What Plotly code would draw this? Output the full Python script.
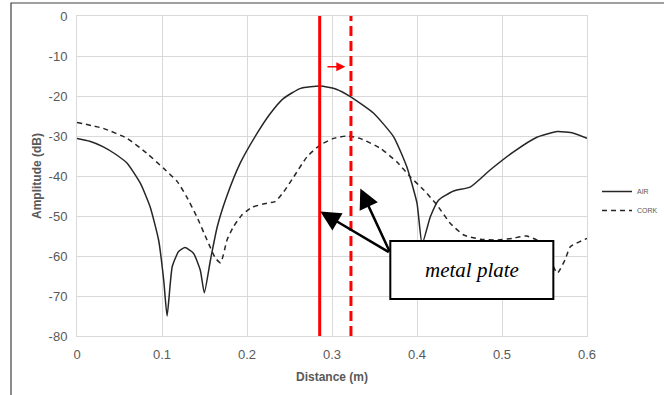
import plotly.graph_objects as go

# ---- data ----
air_x = [0, 0.015, 0.031, 0.045, 0.059, 0.0745, 0.086, 0.096, 0.102, 0.106, 0.112, 0.1195, 0.127,
         0.137, 0.145, 0.1498, 0.157, 0.165, 0.176, 0.192, 0.212, 0.227, 0.243, 0.263, 0.286,
         0.305, 0.322, 0.349, 0.3725, 0.388, 0.4, 0.406, 0.4157, 0.4255, 0.443, 0.463, 0.486,
         0.514, 0.541, 0.565, 0.584, 0.6]
air_y = [-30.6, -31.3, -32.7, -34.5, -36.8, -41.8, -47.7, -56, -66, -75, -62.7, -58.9, -57.9,
         -59.3, -63.5, -69.2, -61, -52.7, -45.2, -36.8, -29.3, -24.5, -20.6, -18.1, -17.5,
         -18.3, -20.2, -24.3, -30.2, -37.7, -46.8, -57, -50.2, -46, -43.75, -42.7, -38.5,
         -33.9, -30.3, -28.9, -29.3, -30.6]

cork_x = [0, 0.031, 0.059, 0.082, 0.102, 0.118, 0.129, 0.141, 0.153, 0.163, 0.169, 0.1765, 0.184,
          0.194, 0.206, 0.2235, 0.233, 0.243, 0.255, 0.2706, 0.286, 0.302, 0.3176, 0.333, 0.357,
          0.3765, 0.392, 0.408, 0.4235, 0.439, 0.455, 0.4745, 0.495, 0.512, 0.529, 0.545, 0.555,
          0.565, 0.574, 0.5804, 0.6]
cork_y = [-26.6, -28.1, -30.6, -34.3, -38.1, -41.4, -45.2, -50.2, -56, -60.6, -61.7, -56, -52.7,
          -49.75, -47.8, -46.8, -46.4, -44, -40.2, -35.2, -32.25, -30.6, -30, -30.6, -33.1,
          -36.5, -40.2, -43.5, -47.25, -51.8, -54.75, -55.8, -56, -55.6, -55, -56.5, -60,
          -64.3, -61, -57.7, -55.6]

plate_air = 0.2855      # metal plate position (solid red)
plate_cork = 0.3223     # metal plate position (dashed red)
y_span = [-80, 0]

x_ticks = [0, 0.1, 0.2, 0.3, 0.4, 0.5, 0.6]
x_labels = ["0", "0.1", "0.2", "0.3", "0.4", "0.5", "0.6"]
y_ticks = [0, -10, -20, -30, -40, -50, -60, -70, -80]
y_labels = ["0", "-10", "-20", "-30", "-40", "-50", "-60", "-70", "-80"]

series_names = ["AIR", "CORK"]
box_text = "metal plate"

# ---- figure ----
GRAY = "#595959"
GRID = "#d9d9d9"
CURVE = "#262626"

fig = go.Figure()
fig.add_trace(go.Scatter(x=air_x, y=air_y, name=series_names[0], mode="lines",
                         line=dict(color=CURVE, width=1.5, shape="spline", smoothing=0.5)))
fig.add_trace(go.Scatter(x=cork_x, y=cork_y, name=series_names[1], mode="lines",
                         line=dict(color=CURVE, width=1.5, dash="5px,4px", shape="spline", smoothing=0.5)))
fig.add_trace(go.Scatter(x=[plate_air, plate_air], y=y_span, mode="lines", showlegend=False,
                         line=dict(color="#ff0000", width=3), hoverinfo="skip"))
fig.add_trace(go.Scatter(x=[plate_cork, plate_cork], y=y_span, mode="lines", showlegend=False,
                         line=dict(color="#ff0000", width=3, dash="10px,5px"), hoverinfo="skip"))

W, H = 664, 395
L, R, T, B = 77, 77, 16, 59
pw, ph = W - L - R, H - T - B

def px_to_paper(px, py):
    return (px - L) / pw, (H - B - py) / ph

# outer frame
fx0, fy0 = px_to_paper(11, 3)
fx1, fy1 = px_to_paper(680, 410)
fig.add_shape(type="rect", xref="paper", yref="paper", x0=fx0, y0=fy1, x1=fx1, y1=fy0,
              line=dict(color="#404040", width=1.2), layer="below")

# text box
bx0, bx1 = 0.3686, 0.5604
by0, by1 = -70.75, -56.25
fig.add_shape(type="rect", x0=bx0, x1=bx1, y0=by0, y1=by1, xref="x", yref="y",
              line=dict(color="black", width=2), fillcolor="white", layer="above")
fig.add_annotation(x=(bx0 + bx1) / 2, y=(by0 + by1) / 2, text=box_text, showarrow=False,
                   font=dict(family="Liberation Serif", size=21, color="black", style="italic"))

# black arrows
for tx, ty in [(0.2862, -48.9), (0.3333, -43.1)]:
    fig.add_annotation(x=tx, y=ty, ax=0.3686, ay=-59.25, xref="x", yref="y", axref="x", ayref="y",
                       text="", showarrow=True, arrowhead=2, arrowsize=1.6, arrowwidth=2.5,
                       arrowcolor="black", standoff=0)
# small red arrow
fig.add_annotation(x=0.3157, y=-12.7, ax=0.2929, ay=-12.7, xref="x", yref="y", axref="x", ayref="y",
                   text="", showarrow=True, arrowhead=2, arrowsize=1.2, arrowwidth=1.5,
                   arrowcolor="#ff0000", standoff=0)

lgx, lgy = px_to_paper(597, 177)

fig.update_layout(
    width=W, height=H,
    margin=dict(l=L, r=R, t=T, b=B, autoexpand=False),
    paper_bgcolor="white", plot_bgcolor="white",
    font=dict(family="Liberation Sans", color=GRAY),
    showlegend=True,
    legend=dict(x=lgx, y=lgy, xanchor="left", yanchor="top", font=dict(size=7, color=GRAY),
                bgcolor="rgba(0,0,0,0)", itemwidth=30, tracegroupgap=0),
    xaxis=dict(range=[0, 0.6], tickvals=x_ticks, ticktext=x_labels, showgrid=True, gridcolor=GRID,
               showline=True, mirror=True, linecolor=GRID, zeroline=False, ticks="",
               tickfont=dict(size=13, color=GRAY), ticklabelstandoff=6,
               title=dict(text="<b>Distance (m)</b>", font=dict(size=12, color=GRAY), standoff=12)),
    yaxis=dict(range=[-80, 0], tickvals=y_ticks, ticktext=y_labels, showgrid=True, gridcolor=GRID,
               showline=True, mirror=True, linecolor=GRID, zeroline=False, ticks="",
               tickfont=dict(size=13, color=GRAY), ticklabelstandoff=6,
               title=dict(text="<b>Amplitude (dB)</b>", font=dict(size=12, color=GRAY), standoff=4)),
)

fig.write_html("out.html", config={"displayModeBar": False},
               post_script="document.body.style.margin='0';document.body.style.overflow='hidden';")
